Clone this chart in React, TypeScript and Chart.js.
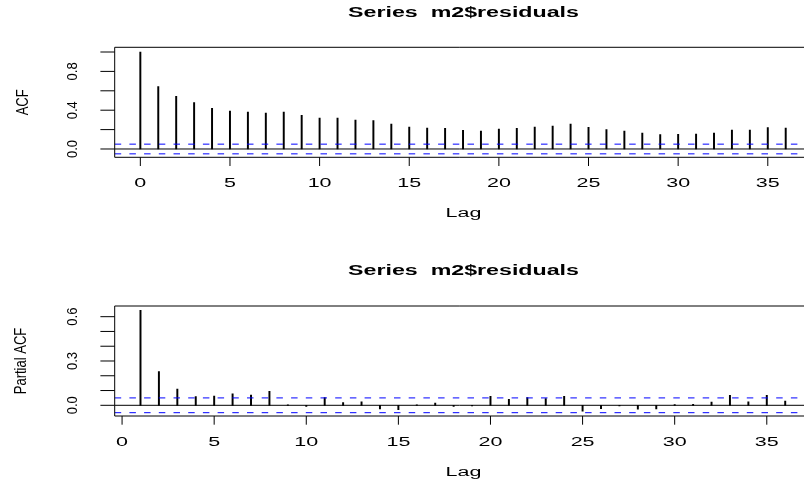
import React, { useEffect, useRef } from "react";
import { Chart, registerables } from "chart.js";

Chart.register(...registerables);

// ---- data ----------------------------------------------------------------
const SERIES_TITLE = "Series  m2$residuals";
const X_LABEL = "Lag";

const ACF_LAGS = [
  0, 1, 2, 3, 4, 5, 6, 7, 8, 9, 10, 11, 12, 13, 14, 15, 16, 17, 18, 19, 20, 21, 22, 23, 24, 25, 26, 27,
  28, 29, 30, 31, 32, 33, 34, 35, 36,
];
const ACF_VALUES = [
  1.0, 0.643, 0.543, 0.478, 0.419, 0.392, 0.381, 0.371, 0.381, 0.347, 0.32, 0.32, 0.299, 0.292, 0.258,
  0.227, 0.216, 0.213, 0.193, 0.186, 0.206, 0.213, 0.227, 0.237, 0.258, 0.223, 0.199, 0.186, 0.165,
  0.148, 0.151, 0.155, 0.165, 0.196, 0.196, 0.22, 0.216,
];

const PACF_LAGS = [
  1, 2, 3, 4, 5, 6, 7, 8, 9, 10, 11, 12, 13, 14, 15, 16, 17, 18, 19, 20, 21, 22, 23, 24, 25, 26, 27, 28,
  29, 30, 31, 32, 33, 34, 35, 36,
];
const PACF_VALUES = [
  0.643, 0.228, 0.11, 0.059, 0.063, 0.077, 0.07, 0.095, 0.004, -0.007, 0.052, 0.018, 0.023, -0.025,
  -0.03, 0.003, 0.015, -0.008, -0.004, 0.061, 0.04, 0.052, 0.045, 0.061, -0.039, -0.023, -0.005, -0.027,
  -0.025, 0.005, 0.007, 0.022, 0.068, 0.023, 0.068, 0.029,
];

// white-noise confidence bound
const CI_BOUND = 0.05;

const X_TICKS = [0, 5, 10, 15, 20, 25, 30, 35];
const X_TICK_LABELS = ["0", "5", "10", "15", "20", "25", "30", "35"];

const ACF_Y_TICKS = [0, 0.2, 0.4, 0.6, 0.8, 1.0];
const ACF_Y_TICK_LABELS = ["0.0", "", "0.4", "", "0.8", ""];

const PACF_Y_TICKS = [0, 0.1, 0.2, 0.3, 0.4, 0.5, 0.6];
const PACF_Y_TICK_LABELS = ["0.0", "", "", "0.3", "", "", "0.6"];

// ---- styling -------------------------------------------------------------
const FONT_FAMILY = '"Liberation Sans", Arial, Helvetica, sans-serif';
const TEXT_STRETCH = 1.72; // horizontal text is drawn wide
const TICK_FONT = `12.5px ${FONT_FAMILY}`;
const TITLE_FONT = `bold 14.5px ${FONT_FAMILY}`;
const ROT_TICK_FONT = `13px ${FONT_FAMILY}`;
const ROT_TICK_ACROSS = 1.15;
const ROT_LABEL_ACROSS = 1.28;
const PLOT_CENTER_X = 463.5;

type PanelSpec = {
  lags: number[];
  values: number[];
  yLabel: string;
  yTicks: number[];
  yTickLabels: string[];
  xMin: number;
  xMax: number;
  yMin: number;
  yMax: number;
  height: number;
  padding: { left: number; top: number; right: number; bottom: number };
  yLabelBaseline: number;
};

function drawWideText(
  ctx: CanvasRenderingContext2D,
  text: string,
  x: number,
  y: number,
  font: string,
  sx: number
) {
  ctx.save();
  ctx.translate(x, y);
  ctx.scale(sx, 1);
  ctx.font = font;
  ctx.textAlign = "center";
  ctx.textBaseline = "alphabetic";
  ctx.fillText(text, 0, 0);
  ctx.restore();
}

function drawUpText(
  ctx: CanvasRenderingContext2D,
  text: string,
  x: number,
  y: number,
  font: string,
  across: number
) {
  ctx.save();
  ctx.translate(x, y);
  ctx.scale(across, 1);
  ctx.rotate(-Math.PI / 2);
  ctx.font = font;
  ctx.textAlign = "center";
  ctx.textBaseline = "alphabetic";
  ctx.fillText(text, 0, 0);
  ctx.restore();
}

function makeFramePlugin(spec: PanelSpec) {
  return {
    id: "acfFrame",
    afterDraw(chart: any) {
      const { ctx, chartArea: a } = chart;
      const xs = chart.scales.x;
      const ys = chart.scales.y;
      ctx.save();
      ctx.fillStyle = "#000";
      ctx.strokeStyle = "#000";
      ctx.lineWidth = 1;

      // plot box (right side runs past the canvas edge)
      ctx.beginPath();
      ctx.moveTo(a.right + 5, a.top);
      ctx.lineTo(a.left, a.top);
      ctx.lineTo(a.left, a.bottom);
      ctx.lineTo(a.right + 5, a.bottom);
      ctx.stroke();

      // x axis ticks and labels
      X_TICKS.forEach((t, i) => {
        const px = xs.getPixelForValue(t);
        ctx.beginPath();
        ctx.moveTo(px, a.bottom);
        ctx.lineTo(px, a.bottom + 8.7);
        ctx.stroke();
        drawWideText(ctx, X_TICK_LABELS[i], px, a.bottom + 29.8, TICK_FONT, TEXT_STRETCH);
      });

      // y axis ticks and labels
      spec.yTicks.forEach((v, i) => {
        const py = ys.getPixelForValue(v);
        ctx.beginPath();
        ctx.moveTo(a.left - 14.3, py);
        ctx.lineTo(a.left, py);
        ctx.stroke();
        const lbl = spec.yTickLabels[i];
        if (lbl) drawUpText(ctx, lbl, 77.3, py, ROT_TICK_FONT, ROT_TICK_ACROSS);
      });

      // titles
      drawWideText(ctx, SERIES_TITLE, PLOT_CENTER_X, a.top - 30.8, TITLE_FONT, TEXT_STRETCH * 0.93);
      drawWideText(ctx, X_LABEL, PLOT_CENTER_X, a.bottom + 60, TICK_FONT, TEXT_STRETCH);
      drawUpText(
        ctx,
        spec.yLabel,
        spec.yLabelBaseline,
        (a.top + a.bottom) / 2,
        ROT_TICK_FONT,
        ROT_LABEL_ACROSS
      );
      ctx.restore();
    },
  };
}

function AcfPanel({ spec }: { spec: PanelSpec }) {
  const ref = useRef<HTMLCanvasElement | null>(null);

  useEffect(() => {
    if (!ref.current) return;
    const points = spec.lags.map((lag, i) => ({ x: lag, y: spec.values[i] }));
    const span = (y: number) => [
      { x: spec.xMin, y },
      { x: spec.xMax, y },
    ];
    const chart = new Chart(ref.current, {
      type: "bar",
      data: {
        datasets: [
          {
            type: "line",
            data: span(CI_BOUND),
            borderColor: "#0000ff",
            borderWidth: 1,
            borderDash: [6.5, 8.2],
            pointRadius: 0,
            fill: false,
          },
          {
            type: "line",
            data: span(-CI_BOUND),
            borderColor: "#0000ff",
            borderWidth: 1,
            borderDash: [6.5, 8.2],
            pointRadius: 0,
            fill: false,
          },
          {
            type: "line",
            data: span(0),
            borderColor: "#000",
            borderWidth: 1,
            pointRadius: 0,
            fill: false,
          },
          {
            type: "bar",
            data: points,
            backgroundColor: "#000",
            borderWidth: 0,
            barThickness: 1.3,
          },
        ],
      } as any,
      options: {
        animation: false,
        responsive: false,
        devicePixelRatio: 1,
        events: [],
        layout: { padding: spec.padding },
        plugins: {
          legend: { display: false },
          tooltip: { enabled: false },
          title: { display: false },
        },
        scales: {
          x: {
            type: "linear",
            display: false,
            offset: false,
            min: spec.xMin,
            max: spec.xMax,
          },
          y: {
            type: "linear",
            display: false,
            min: spec.yMin,
            max: spec.yMax,
          },
        },
      } as any,
      plugins: [makeFramePlugin(spec)],
    });
    return () => chart.destroy();
  }, [spec]);

  return (
    <canvas
      ref={ref}
      width={804}
      height={spec.height}
      style={{ display: "block", width: 804, height: spec.height }}
    />
  );
}

const ACF_PANEL: PanelSpec = {
  lags: ACF_LAGS,
  values: ACF_VALUES,
  yLabel: "ACF",
  yTicks: ACF_Y_TICKS,
  yTickLabels: ACF_Y_TICK_LABELS,
  xMin: -1.43,
  xMax: 37.02,
  yMin: -0.0856,
  yMax: 1.0485,
  height: 244,
  padding: { left: 114.7, top: 47.3, right: 0, bottom: 86.7 },
  yLabelBaseline: 28.3,
};

const PACF_PANEL: PanelSpec = {
  lags: PACF_LAGS,
  values: PACF_VALUES,
  yLabel: "Partial ACF",
  yTicks: PACF_Y_TICKS,
  yTickLabels: PACF_Y_TICK_LABELS,
  xMin: -0.4,
  xMax: 37.02,
  yMin: -0.0724,
  yMax: 0.6723,
  height: 243,
  padding: { left: 114.7, top: 62, right: 0, bottom: 71 },
  yLabelBaseline: 25.5,
};

export default function App() {
  return (
    <div
      style={{
        position: "absolute",
        left: 0,
        top: 0,
        width: 804,
        height: 487,
        background: "#fff",
        overflow: "hidden",
      }}
    >
      <AcfPanel spec={ACF_PANEL} />
      <AcfPanel spec={PACF_PANEL} />
    </div>
  );
}
